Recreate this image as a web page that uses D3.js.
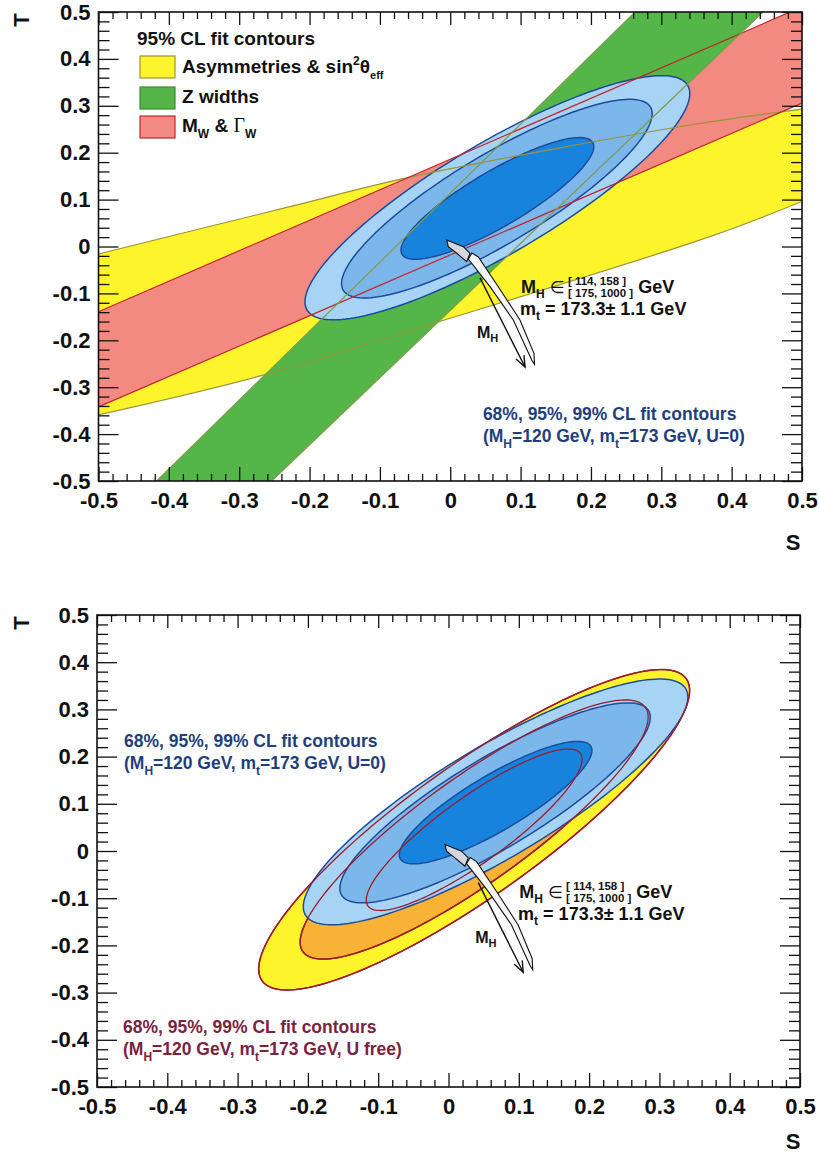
<!DOCTYPE html>
<html>
<head>
<meta charset="utf-8">
<script src="https://cdn.jsdelivr.net/npm/d3@7"></script>
<style>
  html, body { margin: 0; padding: 0; background: #fff; }
  svg { display: block; }
  text { font-family: "Liberation Sans", Arial, Helvetica, sans-serif; font-weight: bold; }
</style>
</head>
<body>
<svg id="chart" width="819" height="1156"></svg>
<script>
// ---------- axis ticks ----------
const majorTicks = [-0.5, -0.4, -0.3, -0.2, -0.1, 0, 0.1, 0.2, 0.3, 0.4, 0.5];
const tickLabels = ["-0.5", "-0.4", "-0.3", "-0.2", "-0.1", "0", "0.1", "0.2", "0.3", "0.4", "0.5"];
const minorTicks = d3.range(-48, 50, 2).filter(v => v % 10 !== 0).map(v => v / 100);

// ---------- 95% CL bands of individual observables (S, T) ----------
const asymUpper = [[-0.5, -0.016], [-0.228, 0.085], [-0.057, 0.148], [0.341, 0.259], [0.5, 0.293]];
const asymLower = [[-0.5, -0.359], [-0.27, -0.276], [-0.015, -0.160], [0.369, 0.021], [0.5, 0.096]];
const mwUpper = [[-0.5, -0.139], [0.5, 0.511]];
const mwLower = [[-0.5, -0.342], [0.5, 0.306]];
const zLeft = [[-0.4173, -0.5], [0.2626, 0.5]];
const zRight = [[-0.2538, -0.5], [0.4446, 0.5]];

// ---------- global fit contours: leftmost / rightmost point and half height at centre ----------
const fitU0 = [
  { cl: "99%", left: [-0.2065, -0.118], right: [0.3405, 0.326], half: 0.136 },
  { cl: "95%", left: [-0.1545, -0.079], right: [0.287, 0.283], half: 0.110 },
  { cl: "68%", left: [-0.070, -0.008], right: [0.204, 0.213], half: 0.068 }
];
const fitUfree = [
  { cl: "99%", left: [-0.270, -0.250], right: [0.343, 0.340], half: 0.168 },
  { cl: "95%", left: [-0.211, -0.193], right: [0.284, 0.284], half: 0.136 },
  { cl: "68%", left: [-0.117, -0.104], right: [0.190, 0.194], half: 0.084 }
];

// ---------- SM prediction (M_H ranges) and M_H direction ----------
const smLowMH = [[-0.005, 0.0139], [0.0186, -0.0004], [0.0281, -0.0145], [0.0234, -0.0324], [0.0092, -0.0145], [-0.0028, -0.0004]];
const smHighMH = [[0.0309, -0.0139], [0.0399, -0.0224], [0.0683, -0.0857], [0.0991, -0.1567], [0.119, -0.2277], [0.1198, -0.2516],
                  [0.1158, -0.242], [0.0896, -0.1567], [0.0565, -0.0857], [0.0257, -0.0267]];
const mhArrow = [[0.0423, -0.067], [0.1063, -0.257]];

// ---------- colours ----------
const col = {
  yellow: "#fdf42c", yellowEdge: "#9a9436",
  green: "#54b548", greenEdge: "#7f9c4c",
  pink: "#f38a82", pinkEdge: "#c2262e",
  light: "#a7d3f4", mid: "#7cb7eb", dark: "#1883dc", blueEdge: "#1d4c9c",
  orange: "#f8b236", ufEdge: "#9c1c2c",
  navyText: "#1f3f7c", maroonText: "#7a2340"
};

const svg = d3.select("#chart");
svg.append("rect").attr("width", 819).attr("height", 1156).attr("fill", "#fff");

const panels = [
  { id: "top", x0: 98.5, x1: 802, y0: 12, y1: 481, sY: 550 },
  { id: "bottom", x0: 97, x1: 800, y0: 615, y1: 1087, sY: 1149 }
];

function makeScales(p) {
  return {
    x: d3.scaleLinear().domain([-0.5, 0.5]).range([p.x0, p.x1]),
    y: d3.scaleLinear().domain([-0.5, 0.5]).range([p.y1, p.y0])
  };
}

function smoothLine(sc) {
  return d3.line().x(d => sc.x(d[0])).y(d => sc.y(d[1])).curve(d3.curveCatmullRom.alpha(0.5));
}

function bandPath(sc, upper, lower) {
  const l = smoothLine(sc);
  return l(upper) + "L" + l(lower.slice().reverse()).slice(1) + "Z";
}

// contour outline from its extreme points (vertical tangents) and the half height at its centre
function ellipsePoints(e) {
  const c = [(e.left[0] + e.right[0]) / 2, (e.left[1] + e.right[1]) / 2];
  const u = [e.right[0] - c[0], e.right[1] - c[1]];
  return d3.range(0, 360, 2).map(a => {
    const r = a * Math.PI / 180;
    return [c[0] + u[0] * Math.cos(r), c[1] + u[1] * Math.cos(r) + e.half * Math.sin(r)];
  });
}

function ellipsePath(sc, e) {
  return d3.line().x(d => sc.x(d[0])).y(d => sc.y(d[1])).curve(d3.curveLinearClosed)(ellipsePoints(e));
}

function richText(sel, x, y, parts, size, color) {
  const t = sel.append("text").attr("x", x).attr("y", y).attr("font-size", size).attr("fill", color);
  let shift = 0;
  parts.forEach(p => {
    const off = p.dy || 0;
    const ts = t.append("tspan").text(p.t).attr("dy", off - shift);
    if (p.size) ts.attr("font-size", p.size);
    if (p.family) ts.attr("font-family", p.family);
    if (p.weight) ts.attr("font-weight", p.weight);
    if (p.dx) ts.attr("dx", p.dx);
    shift = off;
  });
  return t;
}

function drawAxes(g, p, sc) {
  const fmt = d => tickLabels[majorTicks.indexOf(d)];
  const style = a => {
    a.select(".domain").remove();
    a.selectAll("line").attr("stroke", "#111").attr("stroke-width", 1.3);
    a.selectAll("text").attr("font-size", 22).attr("fill", "#111")
      .attr("font-family", "'Liberation Sans', Arial, sans-serif").attr("font-weight", "bold");
  };
  // left
  g.append("g").attr("transform", `translate(${p.x0},0)`)
    .call(d3.axisLeft(sc.y).tickValues(majorTicks).tickSizeInner(-20).tickSizeOuter(0).tickPadding(8).tickFormat(fmt)).call(style);
  g.append("g").attr("transform", `translate(${p.x0},0)`)
    .call(d3.axisLeft(sc.y).tickValues(minorTicks).tickSizeInner(-11).tickSizeOuter(0).tickFormat("")).call(style);
  // right
  g.append("g").attr("transform", `translate(${p.x1},0)`)
    .call(d3.axisRight(sc.y).tickValues(majorTicks).tickSizeInner(-20).tickSizeOuter(0).tickFormat("")).call(style);
  g.append("g").attr("transform", `translate(${p.x1},0)`)
    .call(d3.axisRight(sc.y).tickValues(minorTicks).tickSizeInner(-11).tickSizeOuter(0).tickFormat("")).call(style);
  // bottom
  g.append("g").attr("transform", `translate(0,${p.y1})`)
    .call(d3.axisBottom(sc.x).tickValues(majorTicks).tickSizeInner(-14).tickSizeOuter(0).tickPadding(11).tickFormat(fmt)).call(style);
  g.append("g").attr("transform", `translate(0,${p.y1})`)
    .call(d3.axisBottom(sc.x).tickValues(minorTicks).tickSizeInner(-7).tickSizeOuter(0).tickFormat("")).call(style);
  // top
  g.append("g").attr("transform", `translate(0,${p.y0})`)
    .call(d3.axisTop(sc.x).tickValues(majorTicks).tickSizeInner(-13).tickSizeOuter(0).tickFormat("")).call(style);
  g.append("g").attr("transform", `translate(0,${p.y0})`)
    .call(d3.axisTop(sc.x).tickValues(minorTicks).tickSizeInner(-7).tickSizeOuter(0).tickFormat("")).call(style);
  // frame
  g.append("rect").attr("x", p.x0).attr("y", p.y0).attr("width", p.x1 - p.x0).attr("height", p.y1 - p.y0)
    .attr("fill", "none").attr("stroke", "#111").attr("stroke-width", 1.6);
  // axis titles
  g.append("text").attr("transform", `translate(29,${p.y0 + 8}) rotate(-90)`).attr("text-anchor", "middle")
    .attr("font-size", 22).attr("fill", "#111").text("T");
  g.append("text").attr("x", 793).attr("y", p.sY).attr("text-anchor", "middle")
    .attr("font-size", 22).attr("fill", "#111").text("S");
}

function drawSM(g, sc) {
  const poly = d3.line().x(d => sc.x(d[0])).y(d => sc.y(d[1])).curve(d3.curveLinearClosed);
  g.append("path").attr("d", poly(smHighMH)).attr("fill", "#f6f6f6").attr("stroke", "#111").attr("stroke-width", 1.1);
  g.append("path").attr("d", poly(smLowMH)).attr("fill", "#d6d6de").attr("stroke", "#111").attr("stroke-width", 1.1);
  // M_H arrow
  const a = mhArrow.map(d => [sc.x(d[0]), sc.y(d[1])]);
  g.append("line").attr("x1", a[0][0]).attr("y1", a[0][1]).attr("x2", a[1][0]).attr("y2", a[1][1])
    .attr("stroke", "#111").attr("stroke-width", 1.4);
  const ang = Math.atan2(a[1][1] - a[0][1], a[1][0] - a[0][0]);
  const headPts = [ang + Math.PI - 0.38, ang + Math.PI + 0.38].map(t => [a[1][0] + 12 * Math.cos(t), a[1][1] + 12 * Math.sin(t)]);
  g.append("path").attr("d", `M${headPts[0][0]},${headPts[0][1]}L${a[1][0]},${a[1][1]}L${headPts[1][0]},${headPts[1][1]}`)
    .attr("fill", "none").attr("stroke", "#111").attr("stroke-width", 1.4);
  richText(g, sc.x(0.038), sc.y(-0.195), [{ t: "M" }, { t: "H", size: 11, dy: 4 }], 16, "#111");

  // annotation of the SM prediction
  const t1 = richText(g, sc.x(0.1006), sc.y(-0.099),
    [{ t: "M" }, { t: "H", size: 12, dy: 5 }, { t: " ∈", weight: "normal", family: "'DejaVu Sans', sans-serif", size: 17 }], 18, "#111");
  const bx = sc.x(0.1006) + t1.node().getComputedTextLength() + 3;
  const b1 = g.append("text").attr("x", bx).attr("y", sc.y(-0.099) - 8).attr("font-size", 11.5).attr("fill", "#111").text("[ 114, 158 ]");
  const b2 = g.append("text").attr("x", bx).attr("y", sc.y(-0.099) + 4).attr("font-size", 11.5).attr("fill", "#111").text("[ 175, 1000 ]");
  const bw = Math.max(b1.node().getComputedTextLength(), b2.node().getComputedTextLength());
  g.append("text").attr("x", bx + bw + 5).attr("y", sc.y(-0.099)).attr("font-size", 18).attr("fill", "#111").text("GeV");
  richText(g, sc.x(0.099), sc.y(-0.147),
    [{ t: "m" }, { t: "t", size: 12, dy: 5 }, { t: " = 173.3± 1.1 GeV" }], 18, "#111");
}

function fitLabel(g, x, y, lastPart, color) {
  g.append("text").attr("x", x).attr("y", y).attr("font-size", 17.5).attr("fill", color).text("68%, 95%, 99% CL fit contours");
  richText(g, x, y + 22, [
    { t: "(M" }, { t: "H", size: 12, dy: 6 }, { t: "=120 GeV, m" }, { t: "t", size: 12, dy: 6 }, { t: lastPart }
  ], 17.5, color);
}

// =================== top panel ===================
(function () {
  const p = panels[0], sc = makeScales(p);
  const g = svg.append("g");
  const clip = svg.append("clipPath").attr("id", "clipTop");
  clip.append("rect").attr("x", p.x0).attr("y", p.y0).attr("width", p.x1 - p.x0).attr("height", p.y1 - p.y0);
  const pg = g.append("g").attr("clip-path", "url(#clipTop)");

  const lin = d3.line().x(d => sc.x(d[0])).y(d => sc.y(d[1]));
  // band fills
  pg.append("path").attr("d", bandPath(sc, asymUpper, asymLower)).attr("fill", col.yellow);
  pg.append("path").attr("d", bandPath(sc, mwUpper, mwLower)).attr("fill", col.pink);
  pg.append("path").attr("d", lin(zLeft.concat(zRight.slice().reverse())) + "Z").attr("fill", col.green);

  // fit contours, U = 0
  const fills = [col.light, col.mid, col.dark];
  fitU0.forEach((e, i) => {
    pg.append("path").attr("d", ellipsePath(sc, e)).attr("fill", fills[i])
      .attr("stroke", col.blueEdge).attr("stroke-width", 1.5);
  });

  // band outlines
  const sl = smoothLine(sc);
  [asymUpper, asymLower].forEach(d => pg.append("path").attr("d", sl(d)).attr("fill", "none").attr("stroke", col.yellowEdge).attr("stroke-width", 1.2));
  [mwUpper, mwLower].forEach(d => pg.append("path").attr("d", lin(d)).attr("fill", "none").attr("stroke", col.pinkEdge).attr("stroke-width", 1.2));
  [zLeft, zRight].forEach(d => pg.append("path").attr("d", lin(d)).attr("fill", "none").attr("stroke", col.greenEdge).attr("stroke-width", 1.2));

  drawSM(pg, sc);
  fitLabel(g, sc.x(0.0464), sc.y(-0.37), "=173 GeV, U=0)", col.navyText);

  // legend
  g.append("text").attr("x", 137).attr("y", 45).attr("font-size", 19).attr("fill", "#111").text("95% CL fit contours");
  const leg = [
    { y: 56, fill: col.yellow, stroke: col.yellowEdge },
    { y: 87, fill: col.green, stroke: "#3f8a35" },
    { y: 116, fill: col.pink, stroke: col.pinkEdge }
  ];
  leg.forEach(l => g.append("rect").attr("x", 140).attr("y", l.y).attr("width", 35).attr("height", 22)
    .attr("fill", l.fill).attr("stroke", l.stroke).attr("stroke-width", 1.2));
  richText(g, 182, 73, [
    { t: "Asymmetries & sin" }, { t: "2", size: 12, dy: -8 }, { t: "θ" }, { t: "eff", size: 11, dy: 6 }
  ], 19, "#111");
  g.append("text").attr("x", 182).attr("y", 103).attr("font-size", 19).attr("fill", "#111").text("Z widths");
  richText(g, 182, 132, [
    { t: "M" }, { t: "W", size: 12, dy: 6 }, { t: " & " },
    { t: "Γ", family: "'Liberation Serif', 'Times New Roman', serif", weight: "normal", size: 20 }, { t: "W", size: 12, dy: 6 }
  ], 19, "#111");

  drawAxes(g, p, sc);
})();

// =================== bottom panel ===================
(function () {
  const p = panels[1], sc = makeScales(p);
  const g = svg.append("g");
  const clip = svg.append("clipPath").attr("id", "clipBottom");
  clip.append("rect").attr("x", p.x0).attr("y", p.y0).attr("width", p.x1 - p.x0).attr("height", p.y1 - p.y0);
  const pg = g.append("g").attr("clip-path", "url(#clipBottom)");

  // U free contours (filled 99% and 95%)
  pg.append("path").attr("d", ellipsePath(sc, fitUfree[0])).attr("fill", col.yellow).attr("stroke", col.ufEdge).attr("stroke-width", 1.5);
  pg.append("path").attr("d", ellipsePath(sc, fitUfree[1])).attr("fill", col.orange).attr("stroke", col.ufEdge).attr("stroke-width", 1.5);

  // U = 0 contours
  const fills = [col.light, col.mid, col.dark];
  fitU0.forEach((e, i) => {
    pg.append("path").attr("d", ellipsePath(sc, e)).attr("fill", fills[i])
      .attr("stroke", col.blueEdge).attr("stroke-width", 1.5);
  });

  // U free outlines on top
  fitUfree.forEach(e => {
    pg.append("path").attr("d", ellipsePath(sc, e)).attr("fill", "none").attr("stroke", col.ufEdge).attr("stroke-width", 1.3);
  });

  drawSM(pg, sc);
  fitLabel(g, sc.x(-0.4616), sc.y(0.221), "=173 GeV, U=0)", col.navyText);
  fitLabel(g, sc.x(-0.463), sc.y(-0.3856), "=173 GeV, U free)", col.maroonText);

  drawAxes(g, p, sc);
})();
</script>
</body>
</html>
